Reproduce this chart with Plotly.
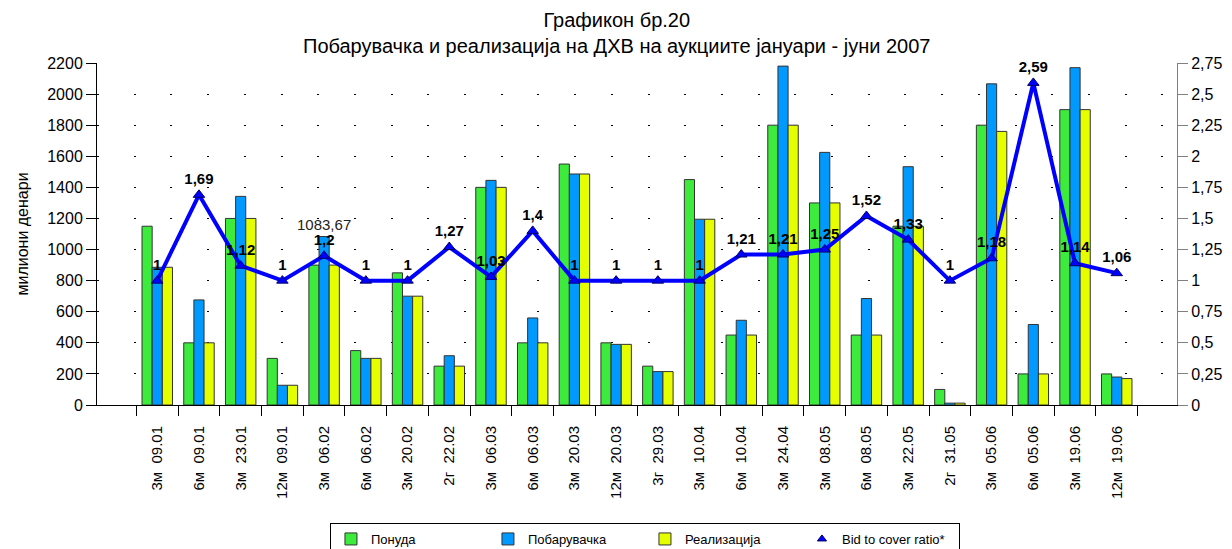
import plotly.graph_objects as go

# аукции (категории)
categories = ["3м  09.01", "6м  09.01", "3м  23.01", "12м  09.01", "3м  06.02", "6м  06.02",
              "3м  20.02", "2г  22.02", "3м  06.03", "6м  06.03", "3м  20.03", "12м  20.03",
              "3г  29.03", "3м  10.04", "6м  10.04", "3м  24.04", "3м  08.05", "6м  08.05",
              "3м  22.05", "2г  31.05", "3м  05.06", "6м  05.06", "3м  19.06", "12м  19.06"]

ponuda = [1150, 400, 1200, 300, 900, 350, 850, 250, 1400, 400, 1550, 400,
          250, 1450, 450, 1800, 1300, 450, 1150, 100, 1800, 200, 1900, 200]
pobaruvachka = [886, 676, 1342, 127, 1083.67, 300, 700, 317, 1445, 560, 1486, 390,
                215, 1195, 545, 2180, 1625, 685, 1533, 12, 2066, 518, 2170, 180]
realizacija = [886, 400, 1200, 127, 900, 300, 700, 250, 1400, 400, 1486, 390,
               215, 1195, 450, 1800, 1300, 450, 1150, 12, 1760, 200, 1900, 170]
bid_to_cover = [1, 1.69, 1.12, 1, 1.2, 1, 1, 1.27, 1.03, 1.4, 1, 1,
                1, 1, 1.21, 1.21, 1.25, 1.52, 1.33, 1, 1.18, 2.59, 1.14, 1.06]

ratio_text = [f"{v:g}".replace(".", ",") for v in bid_to_cover]

fig = go.Figure()

bar_line = dict(color="#333333", width=1)
fig.add_trace(go.Bar(x=categories, y=ponuda, name="Понуда",
                     marker=dict(color="#3CEB3C", line=bar_line)))
fig.add_trace(go.Bar(x=categories, y=pobaruvachka, name="Побарувачка",
                     marker=dict(color="#0099FF", line=bar_line)))
fig.add_trace(go.Bar(x=categories, y=realizacija, name="Реализација",
                     marker=dict(color="#E6FF00", line=bar_line)))

tri = dict(symbol="triangle-up", size=10, color="#0000FF",
           line=dict(color="#000066", width=1))
fig.add_trace(go.Scatter(
    x=categories, y=bid_to_cover, yaxis="y2", name="Bid to cover ratio*",
    mode="lines+markers+text", showlegend=False,
    line=dict(color="#0000FF", width=4),
    marker=tri,
    text=ratio_text, textposition="top center",
    texttemplate="<b>%{text}</b>",
    textfont=dict(size=15, color="black"),
    cliponaxis=False,
))
# само за легендата (триаголник без линија)
fig.add_trace(go.Scatter(x=[None], y=[None], yaxis="y2", mode="markers",
                         name="Bid to cover ratio*",
                         marker=dict(tri, size=8)))

# вредност над сината колона на 06.02
fig.add_annotation(x=categories[4], y=pobaruvachka[4], xref="x", yref="y",
                   text="1083,67", showarrow=False, yanchor="bottom", yshift=2,
                   font=dict(size=15, color="#222"))

# наслов
fig.add_annotation(text="Графикон бр.20<br>Побарувачка и реализација на ДХВ на аукциите јануари - јуни 2007",
                   xref="paper", yref="paper", x=(616 - 97) / 1080, y=1.012,
                   xanchor="center", yanchor="bottom", showarrow=False,
                   font=dict(size=20, color="black"))

# страницата има 8px маргина (лево и горе), па фигурата е помала за толку
fig.update_layout(
    font=dict(family="Arial, Liberation Sans, sans-serif", color="black"),
    separators=",.",
    width=1224, height=541,
    paper_bgcolor="white", plot_bgcolor="white",
    margin=dict(l=89, r=55, t=55, b=144, autoexpand=False),
    barmode="group", bargap=0.27, bargroupgap=0,
    legend=dict(orientation="h", x=0.2157, xanchor="left", y=-0.345, yanchor="top",
                bordercolor="black", borderwidth=1, bgcolor="white",
                font=dict(size=13), traceorder="normal", entrywidth=112),
    xaxis=dict(type="category", tickangle=-90, tickson="boundaries",
               ticks="outside", ticklen=10, tickcolor="black",
               ticklabelstandoff=14,
               showline=True, linecolor="black", linewidth=1,
               showgrid=False, tickfont=dict(size=15)),
    yaxis=dict(title=dict(text="милиони денари", font=dict(size=16), standoff=14),
               range=[0, 2200], dtick=200, ticks="outside", ticklen=10,
               tickcolor="black", showline=True, linecolor="black",
               showgrid=True, gridcolor="black", gridwidth=1,
               griddash="2px,34.7px", zeroline=False, tickfont=dict(size=16)),
    yaxis2=dict(overlaying="y", side="right", range=[0, 2.75], dtick=0.25,
                ticks="outside", ticklen=10, tickcolor="#808080",
                showline=True, linecolor="#808080", showgrid=False,
                zeroline=False, tickfont=dict(size=16)),
)

fig.write_html("out.html")
